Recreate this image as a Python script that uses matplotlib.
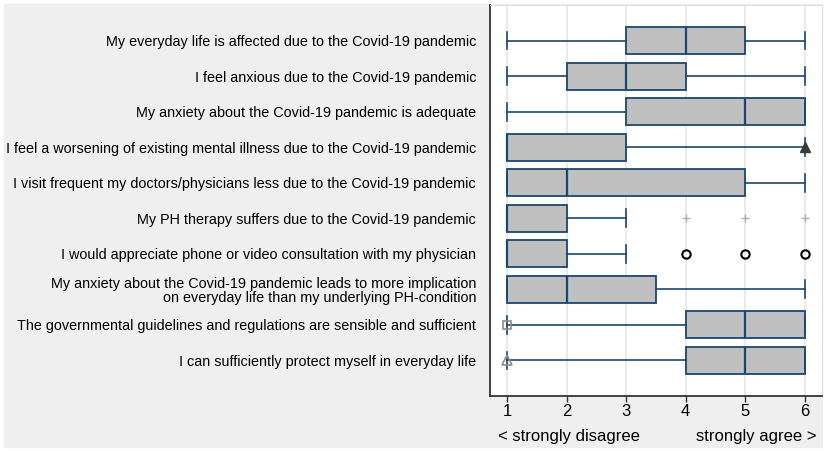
import matplotlib as mpl
import matplotlib.pyplot as plt
from matplotlib.patches import Rectangle

mpl.rcParams['font.family'] = ['Liberation Sans', 'DejaVu Sans']

labels = [
    "My everyday life is affected due to the Covid-19 pandemic",
    "I feel anxious due to the Covid-19 pandemic",
    "My anxiety about the Covid-19 pandemic is adequate",
    "I feel a worsening of existing mental illness due to the Covid-19 pandemic",
    "I visit frequent my doctors/physicians less due to the Covid-19 pandemic",
    "My PH therapy suffers due to the Covid-19 pandemic",
    "I would appreciate phone or video consultation with my physician",
    "My anxiety about the Covid-19 pandemic leads to more implication\non everyday life than my underlying PH-condition",
    "The governmental guidelines and regulations are sensible and sufficient",
    "I can sufficiently protect myself in everyday life",
]
whis_lo = [1, 1, 1, 1, 1, 1, 1, 1, 1, 1]
q1 = [3, 2, 3, 1, 1, 1, 1, 1, 4, 4]
med = [4, 3, 5, 1, 2, 1, 1, 2, 5, 5]
q3 = [5, 4, 6, 3, 5, 2, 2, 3.5, 6, 6]
whis_hi = [6, 6, 6, 6, 6, 3, 3, 6, 6, 6]
# outside values per row (row index -> x values)
outliers = {
    3: [6],
    5: [4, 5, 6],
    6: [4, 5, 6],
    8: [1],
    9: [1],
}
xticks = [1, 2, 3, 4, 5, 6]

navy = '#1a476f'
W, H = 829, 451
fig = plt.figure(figsize=(W / 100, H / 100), dpi=100)
fig.patches.append(Rectangle((4 / W, 4 / H), 818 / W, 443 / H,
                             transform=fig.transFigure, color='#efefef', zorder=-10))
ax = fig.add_axes([490 / W, 1 - 396 / H, 332 / W, 391 / H])
ax.set_facecolor('white')

stats = []
for i in range(len(labels)):
    stats.append(dict(whislo=whis_lo[i], q1=q1[i], med=med[i], q3=q3[i],
                      whishi=whis_hi[i], fliers=[]))
pos = list(range(1, len(labels) + 1))
ax.bxp(stats, positions=pos, orientation='horizontal', widths=0.76, capwidths=0.5,
       showfliers=False, patch_artist=True,
       boxprops=dict(facecolor='#c0c0c0', edgecolor=navy, linewidth=1.3),
       medianprops=dict(color=navy, linewidth=1.6),
       whiskerprops=dict(color=navy, linewidth=1.2),
       capprops=dict(color=navy, linewidth=1.2), zorder=3)

styles = {
    3: dict(marker='^', color='#3a3a3a', ms=7, mfc='#3a3a3a', mew=1),
    5: dict(marker='+', color='#b0b0b0', ms=6, mfc='none', mew=1),
    6: dict(marker='o', color='black', ms=6, mfc='none', mew=1.5),
    8: dict(marker='s', color='#8c8c8c', ms=6, mfc='none', mew=1.2),
    9: dict(marker='^', color='#8c8c8c', ms=7, mfc='none', mew=1.2),
}
for r, vals in outliers.items():
    ax.plot(vals, [pos[r]] * len(vals), ls='none', zorder=4, **styles[r])

ax.set_xlim(0.71, 6.29)
ax.set_ylim(11, 0)
ax.set_xticks(xticks)
ax.set_xticklabels([str(t) for t in xticks], fontsize=12)
ax.set_yticks(pos)
ax.set_yticklabels(labels, fontsize=10.4)
for t in ax.get_yticklabels():
    t.set_linespacing(1.0)
ax.tick_params(axis='y', length=0, pad=10)
ax.tick_params(axis='x', length=4, width=1, color='#333333', pad=2)
ax.grid(axis='x', color='#e6e6e6', lw=1.2, zorder=0)
ax.set_axisbelow(True)
for s in ['left', 'bottom']:
    ax.spines[s].set_color('#333333')
    ax.spines[s].set_linewidth(1.3)
for s in ['top', 'right']:
    ax.spines[s].set_color('#dddddd')
    ax.spines[s].set_linewidth(0.8)

fig.text(498 / W, 1 - 437 / H, '< strongly disagree', fontsize=12, va='center', ha='left')
fig.text(817 / W, 1 - 437 / H, 'strongly agree >', fontsize=12, va='center', ha='right')

fig.savefig('out.png', dpi=100, facecolor='white')
